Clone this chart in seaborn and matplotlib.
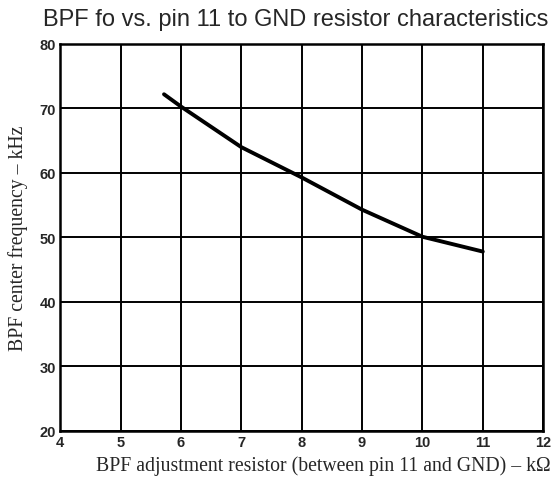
import matplotlib
matplotlib.use("Agg")
import matplotlib.pyplot as plt
import seaborn as sns
import pandas as pd

resistor_kohm = [5.72, 6.0, 7.0, 8.0, 9.0, 10.0, 11.0]
center_freq_khz = [72.2, 70.3, 64.0, 59.3, 54.3, 50.1, 47.8]
x_ticks = [4, 5, 6, 7, 8, 9, 10, 11, 12]
y_ticks = [20, 30, 40, 50, 60, 70, 80]

sns.set_style("white")
df = pd.DataFrame({"r": resistor_kohm, "f": center_freq_khz})

fig = plt.figure(figsize=(5.52, 4.89), dpi=100)
ax = fig.add_axes([0.109, 0.117, 0.875, 0.791])
sns.lineplot(data=df, x="r", y="f", ax=ax, color="black", linewidth=2.8)

ax.set_xlim(4, 12)
ax.set_ylim(20, 80)
ax.set_xticks(x_ticks)
ax.set_yticks(y_ticks)
ax.grid(True, color="black", linewidth=1.4)
ax.set_axisbelow(True)
for s in ax.spines.values():
    s.set_color("black")
    s.set_linewidth(1.8)
ax.tick_params(length=0, pad=3)
for lab in ax.get_xticklabels() + ax.get_yticklabels():
    lab.set_fontfamily("Liberation Sans")
    lab.set_fontweight("bold")
    lab.set_fontsize(10.5)

ax.set_xlabel("BPF adjustment resistor (between pin 11 and GND) – kΩ",
              fontfamily="Liberation Serif", fontsize=14.2)
ax.xaxis.set_label_coords(0.545, -0.063)
ax.set_ylabel("BPF center frequency – kHz",
              fontfamily="Liberation Serif", fontsize=14.2, labelpad=8)
fig.text(0.535, 0.96, "BPF fo vs. pin 11 to GND resistor characteristics",
         ha="center", va="center", fontfamily="Liberation Sans", fontsize=17)

fig.savefig("out.png", dpi=100)
